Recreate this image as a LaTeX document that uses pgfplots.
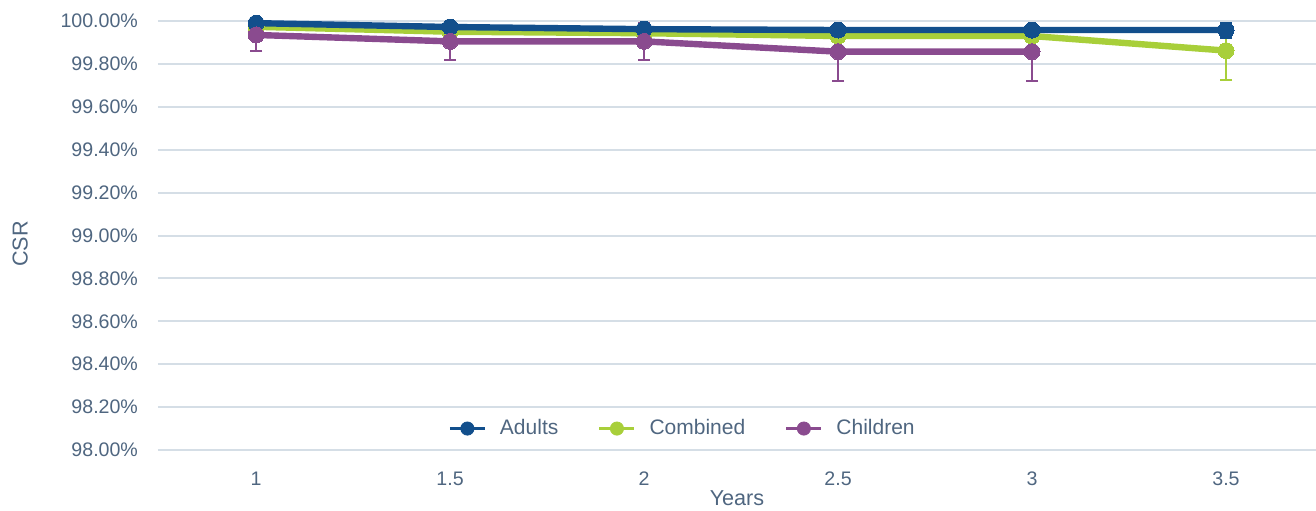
\documentclass[border=0pt]{standalone}
\usepackage{pgfplots}
\pgfplotsset{compat=1.18}
\usepackage{fontspec}
\setmainfont{Liberation Sans}
\definecolor{adults}{HTML}{124F8C}
\definecolor{combined}{HTML}{A8CF3A}
\definecolor{children}{HTML}{8A4B8F}
\definecolor{txt}{HTML}{4F6680}
\definecolor{gridc}{HTML}{D5DEE6}
\pgfplotstableread{
x y ep em
1 99.990 0.008 0.010
1.5 99.972 0.015 0.015
2 99.962 0.020 0.020
2.5 99.958 0.020 0.020
3 99.958 0.020 0.020
3.5 99.958 0.035 0.035
}\adults
\pgfplotstableread{
x y ep em
1 99.973 0.020 0.020
1.5 99.950 0.025 0.025
2 99.943 0.025 0.025
2.5 99.930 0.030 0.030
3 99.930 0.030 0.030
3.5 99.862 0.090 0.137
}\combined
\pgfplotstableread{
x y ep em
1 99.935 0.060 0.075
1.5 99.905 0.086 0.086
2 99.905 0.086 0.086
2.5 99.857 0.100 0.137
3 99.857 0.100 0.137
}\children
\begin{document}
\begin{tikzpicture}
\begin{axis}[
  scale only axis, width=579pt, height=214.5pt,
  xmin=0.747, xmax=3.732, ymin=98, ymax=100,
  clip=false,
  axis line style={draw=none}, tick style={draw=none},
  ymajorgrids, grid style={gridc, line width=1pt},
  xtick={1,1.5,2,2.5,3,3.5}, xticklabels={1,1.5,2,2.5,3,3.5},
  ytick={98,98.2,98.4,98.6,98.8,99,99.2,99.4,99.6,99.8,100},
  yticklabels={98.00\%,98.20\%,98.40\%,98.60\%,98.80\%,99.00\%,99.20\%,99.40\%,99.60\%,99.80\%,100.00\%},
  ticklabel style={font=\fontsize{9.8}{11}\selectfont, text=txt},
  xticklabel style={yshift=-7.5pt},
  yticklabel style={xshift=-6.5pt},
  xlabel={Years}, ylabel={CSR},
  label style={font=\fontsize{10.8}{12}\selectfont, text=txt},
  xlabel style={at={(axis description cs:0.5,-0.112)}, anchor=center},
  ylabel style={at={(axis description cs:-0.119,0.48)}, anchor=center, rotate=0},
  legend style={at={(axis description cs:0.454,0.05)}, anchor=center, draw=none, fill=none,
    font=\fontsize{10.5}{12}\selectfont, text=txt, legend columns=3,
    /tikz/every odd column/.append style={column sep=5pt},
    /tikz/every even column/.append style={column sep=18pt}},
  legend image code/.code={\draw[#1, line width=1.1pt] (0pt,0pt) -- (17.5pt,0pt);
     \fill[#1] (8.75pt,0pt) circle (3.3pt);},
]
% error bars underneath
\addplot[forget plot, draw=none, mark=none, error bars/.cd, y dir=both, y explicit,
  error bar style={draw=combined, line width=1pt},
  error mark options={draw=combined, rotate=90, mark size=3pt, line width=1pt}]
  table[x=x, y=y, y error plus=ep, y error minus=em]{\combined};
\addplot[forget plot, draw=none, mark=none, error bars/.cd, y dir=both, y explicit,
  error bar style={draw=children, line width=1pt},
  error mark options={draw=children, rotate=90, mark size=3pt, line width=1pt}]
  table[x=x, y=y, y error plus=ep, y error minus=em]{\children};
\addplot[forget plot, draw=none, mark=none, error bars/.cd, y dir=both, y explicit,
  error bar style={draw=adults, line width=1pt},
  error mark options={draw=adults, rotate=90, mark size=3pt, line width=1pt}]
  table[x=x, y=y, y error plus=ep, y error minus=em]{\adults};
% lines
\addplot[forget plot, combined, line width=3.2pt, mark=*, mark size=4pt, mark options={solid, line width=0pt}] table[x=x, y=y]{\combined};
\addplot[forget plot, adults, line width=3.2pt, mark=*, mark size=4pt, mark options={solid, line width=0pt}] table[x=x, y=y]{\adults};
\addplot[forget plot, children, line width=3.2pt, mark=*, mark size=4pt, mark options={solid, line width=0pt}] table[x=x, y=y]{\children};
\addlegendimage{adults}
\addlegendimage{combined}
\addlegendimage{children}
\legend{Adults,Combined,Children}
\end{axis}
\pgfresetboundingbox
\path[use as bounding box] (-79pt,-30pt) rectangle (579pt,225pt);
\end{tikzpicture}
\end{document}
